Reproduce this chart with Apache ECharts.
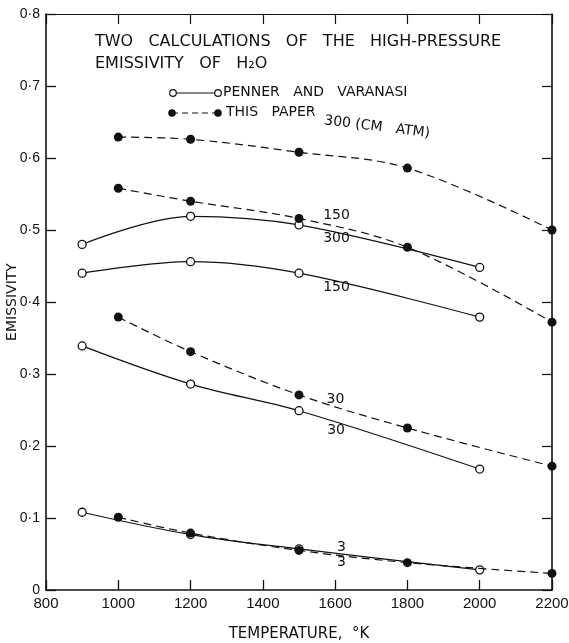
<!DOCTYPE html>
<html>
<head>
    <meta charset="utf-8">
    <title>Emissivity of H2O</title>
    <script type="text/javascript" src="https://cdn.jsdelivr.net/npm/echarts@6/dist/echarts.min.js"></script>
</head>
<body style="margin:0;background:#fff;">
<div id="main" style="width:569px;height:643px;"></div>
<script type="text/javascript">
    // data
    var pennerT = [900, 1200, 1500, 2000];
    var penner300 = [0.480, 0.519, 0.507, 0.448];
    var penner150 = [0.440, 0.456, 0.440, 0.379];
    var penner30 = [0.339, 0.286, 0.249, 0.168];
    var penner3 = [0.108, 0.077, 0.057, 0.028];

    var paperT = [1000, 1200, 1500, 1800, 2200];
    var paper300 = [0.629, 0.626, 0.608, 0.586, 0.500];
    var paper150 = [0.558, 0.540, 0.516, 0.476, 0.372];
    var paper30 = [0.379, 0.331, 0.271, 0.225, 0.172];
    var paper3 = [0.101, 0.079, 0.055, 0.038, 0.023];

    var xTicks = [800, 1000, 1200, 1400, 1600, 1800, 2000, 2200];
    var yTicks = [0, 0.1, 0.2, 0.3, 0.4, 0.5, 0.6, 0.7, 0.8];

    // curve labels: [text, temperature, emissivity, rotate]
    var curveLabels = [
        ['300 (CM   ATM)', 1570, 0.652, -7],
        ['150', 1567, 0.521, 0],
        ['300', 1567, 0.489, 0],
        ['150', 1567, 0.421, 0],
        ['30', 1576, 0.265, 0],
        ['30', 1578, 0.222, 0],
        ['3', 1605, 0.059, 0],
        ['3', 1605, 0.038, 0]
    ];

    var FONT = 'DejaVu Sans';

    function pairs(xs, ys) {
        var out = [];
        for (var i = 0; i < xs.length; i++) out.push([xs[i], ys[i]]);
        return out;
    }

    function pennerSeries(ys) {
        return {
            type: 'line',
            data: pairs(pennerT, ys),
            smooth: 0.35,
            symbol: 'circle',
            symbolSize: 8,
            lineStyle: {color: '#111', width: 1.2},
            itemStyle: {color: '#fff', borderColor: '#111', borderWidth: 1.3},
            z: 3
        };
    }

    function paperSeries(ys) {
        return {
            type: 'line',
            data: pairs(paperT, ys),
            smooth: 0.35,
            symbol: 'circle',
            symbolSize: 9,
            lineStyle: {color: '#111', width: 1.2, type: [8, 5]},
            itemStyle: {color: '#111'},
            z: 4
        };
    }

    function fmtY(v) {
        if (v === 0) return '0';
        return v.toFixed(1).replace('.', '\u00b7');
    }

    var myChart = echarts.init(document.getElementById('main'));

    var option = {
        backgroundColor: '#fff',
        animation: false,
        textStyle: {fontFamily: FONT, color: '#111'},
        grid: {left: 46, right: 17, top: 14, bottom: 53, outerBoundsMode: 'none', containLabel: false},
        xAxis: [{
            type: 'value', min: 800, max: 2200, interval: 200,
            axisLine: {show: true, lineStyle: {color: '#111', width: 1.6}},
            axisTick: {show: true, inside: true, length: 10, lineStyle: {color: '#111', width: 1.3}},
            axisLabel: {fontSize: 15, color: '#111', margin: 6, fontFamily: 'Liberation Sans',
                formatter: function (v) { return String(v); }},
            splitLine: {show: false},
            name: 'TEMPERATURE,  \u00b0K', nameLocation: 'middle', nameGap: 37,
            nameTextStyle: {fontSize: 15, color: '#111', fontFamily: FONT}
        }, {
            type: 'value', min: 800, max: 2200, interval: 200, position: 'top',
            axisLine: {show: true, onZero: false, lineStyle: {color: '#111', width: 1.2}},
            axisTick: {show: true, inside: true, length: 10, lineStyle: {color: '#111', width: 1.2}},
            axisLabel: {show: false},
            splitLine: {show: false}
        }],
        yAxis: [{
            type: 'value', min: 0, max: 0.8, interval: 0.1,
            axisLine: {show: true, lineStyle: {color: '#111', width: 1.6}},
            axisTick: {show: true, inside: true, length: 10, lineStyle: {color: '#111', width: 1.3}},
            axisLabel: {fontSize: 14, color: '#111', margin: 6, formatter: fmtY, fontFamily: 'Liberation Sans'},
            splitLine: {show: false},
            name: 'EMISSIVITY', nameLocation: 'middle', nameGap: 34, nameRotate: 90,
            nameMoveOverlap: false,
            nameTextStyle: {fontSize: 14, color: '#111', fontFamily: FONT, verticalAlign: 'middle'}
        }, {
            type: 'value', min: 0, max: 0.8, interval: 0.1, position: 'right',
            axisLine: {show: true, onZero: false, lineStyle: {color: '#111', width: 1.6}},
            axisTick: {show: true, inside: true, length: 10, lineStyle: {color: '#111', width: 1.2}},
            axisLabel: {show: false},
            splitLine: {show: false}
        }],
        series: [
            pennerSeries(penner300),
            pennerSeries(penner150),
            pennerSeries(penner30),
            pennerSeries(penner3),
            paperSeries(paper300),
            paperSeries(paper150),
            paperSeries(paper30),
            paperSeries(paper3),
            {
                type: 'scatter',
                symbolSize: 0,
                silent: true,
                z: 6,
                itemStyle: {opacity: 1},
                data: curveLabels.map(function (c) {
                    return {
                        value: [c[1], c[2]],
                        label: {
                            show: true, position: 'right', distance: 0,
                            formatter: c[0], rotate: c[3],
                            fontSize: 14, color: '#111', fontFamily: FONT
                        }
                    };
                })
            }
        ],
        graphic: [
            {type: 'text', left: 95, top: 34,
                style: {text: 'TWO   CALCULATIONS   OF   THE   HIGH-PRESSURE', font: '16px ' + FONT, fill: '#111'}},
            {type: 'text', left: 95, top: 56,
                style: {text: 'EMISSIVITY   OF   H\u2082O', font: '16px ' + FONT, fill: '#111'}},
            // legend
            {type: 'line', shape: {x1: 173, y1: 93, x2: 218, y2: 93}, style: {stroke: '#111', lineWidth: 1.2}},
            {type: 'circle', shape: {cx: 173, cy: 93, r: 3.3}, style: {fill: '#fff', stroke: '#111', lineWidth: 1.2}},
            {type: 'circle', shape: {cx: 218, cy: 93, r: 3.3}, style: {fill: '#fff', stroke: '#111', lineWidth: 1.2}},
            {type: 'text', left: 223, top: 85,
                style: {text: 'PENNER   AND   VARANASI', font: '14px ' + FONT, fill: '#111'}},
            {type: 'line', shape: {x1: 172, y1: 113, x2: 218, y2: 113}, style: {stroke: '#111', lineWidth: 1.2, lineDash: [6, 4]}},
            {type: 'circle', shape: {cx: 172, cy: 113, r: 3.8}, style: {fill: '#111'}},
            {type: 'circle', shape: {cx: 218, cy: 113, r: 3.8}, style: {fill: '#111'}},
            {type: 'text', left: 226, top: 105,
                style: {text: 'THIS   PAPER', font: '14px ' + FONT, fill: '#111'}}
        ]
    };

    myChart.setOption(option);
</script>
</body>
</html>
